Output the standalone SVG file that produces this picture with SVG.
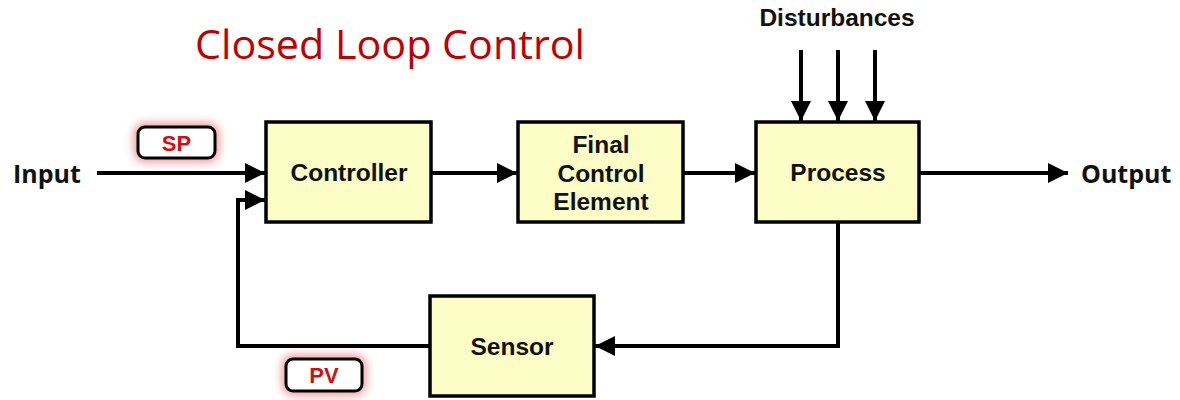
<svg xmlns="http://www.w3.org/2000/svg" width="1180" height="400" viewBox="0 0 1180 400">
  <defs>
    <marker id="arrow" markerUnits="userSpaceOnUse" markerWidth="22" markerHeight="20" refX="20" refY="10" orient="auto">
      <path d="M0,0 L20,10 L0,20 Z" fill="#000"/>
    </marker>
    <filter id="glow" x="-40%" y="-60%" width="180%" height="220%">
      <feGaussianBlur stdDeviation="4"/>
    </filter>
    <style>
      .box { fill: #fcfcc6; stroke: #000; stroke-width: 3.5; }
      .lbl { font-family: "Liberation Sans", Arial, sans-serif; font-weight: bold; font-size: 24.5px; fill: #111; text-anchor: middle; }
      .io { font-family: "Open Sans", "Liberation Sans", sans-serif; font-weight: bold; font-size: 25px; fill: #111; }
      .wire { fill: none; stroke: #000; stroke-width: 4; }
      .tag { fill: #fff; stroke: #000; stroke-width: 3; }
      .tagglow { fill: none; stroke: #e53030; stroke-width: 8; opacity: 0.55; filter: url(#glow); }
      .tagtxt { font-family: "Liberation Sans", Arial, sans-serif; font-weight: bold; font-size: 22px; fill: #d01010; text-anchor: middle; }
    </style>
  </defs>

  <rect width="1180" height="400" fill="#fff"/>

  <text x="195" y="59" font-family="'Open Sans', 'Liberation Sans', sans-serif" font-size="40" fill="#c00000" textLength="390" lengthAdjust="spacingAndGlyphs">Closed Loop Control</text>

  <g id="connectors">
    <line class="wire" x1="97" y1="173" x2="265" y2="173" marker-end="url(#arrow)"/>
    <line class="wire" x1="431" y1="173" x2="517" y2="173" marker-end="url(#arrow)"/>
    <line class="wire" x1="683" y1="173" x2="755" y2="173" marker-end="url(#arrow)"/>
    <line class="wire" x1="919" y1="173" x2="1068" y2="173" marker-end="url(#arrow)"/>
    <line class="wire" x1="801" y1="50" x2="801" y2="121" marker-end="url(#arrow)"/>
    <line class="wire" x1="838" y1="50" x2="838" y2="121" marker-end="url(#arrow)"/>
    <line class="wire" x1="875" y1="50" x2="875" y2="121" marker-end="url(#arrow)"/>
    <polyline class="wire" points="838,223 838,346 595,346" marker-end="url(#arrow)"/>
    <polyline class="wire" points="430,346 238,346 238,200 265,200" marker-end="url(#arrow)"/>
  </g>

  <g id="input">
    <text class="io" x="13" y="183">Input</text>
  </g>
  <g id="output">
    <text class="io" x="1081" y="183" font-size="27">Output</text>
  </g>
  <g id="disturbances">
    <text class="lbl" x="837" y="26" font-size="23">Disturbances</text>
  </g>

  <g id="controller">
    <rect class="box" x="266" y="122" width="165" height="100"/>
    <text class="lbl" x="349" y="181">Controller</text>
  </g>
  <g id="final-control-element">
    <rect class="box" x="518" y="122" width="165" height="100"/>
    <text class="lbl" x="601" y="153">Final</text>
    <text class="lbl" x="601" y="181.5">Control</text>
    <text class="lbl" x="601" y="210">Element</text>
  </g>
  <g id="process">
    <rect class="box" x="756" y="122" width="163" height="100"/>
    <text class="lbl" x="838" y="181">Process</text>
  </g>
  <g id="sensor">
    <rect class="box" x="430" y="296" width="164" height="100"/>
    <text class="lbl" x="512" y="355">Sensor</text>
  </g>

  <g id="sp">
    <rect class="tagglow" x="138" y="127" width="77" height="31" rx="7"/>
    <rect class="tag" x="138" y="127" width="77" height="31" rx="7"/>
    <text class="tagtxt" x="176.5" y="151">SP</text>
  </g>
  <g id="pv">
    <rect class="tagglow" x="286" y="359" width="76" height="32" rx="7"/>
    <rect class="tag" x="286" y="359" width="76" height="32" rx="7"/>
    <text class="tagtxt" x="324" y="383">PV</text>
  </g>
</svg>
